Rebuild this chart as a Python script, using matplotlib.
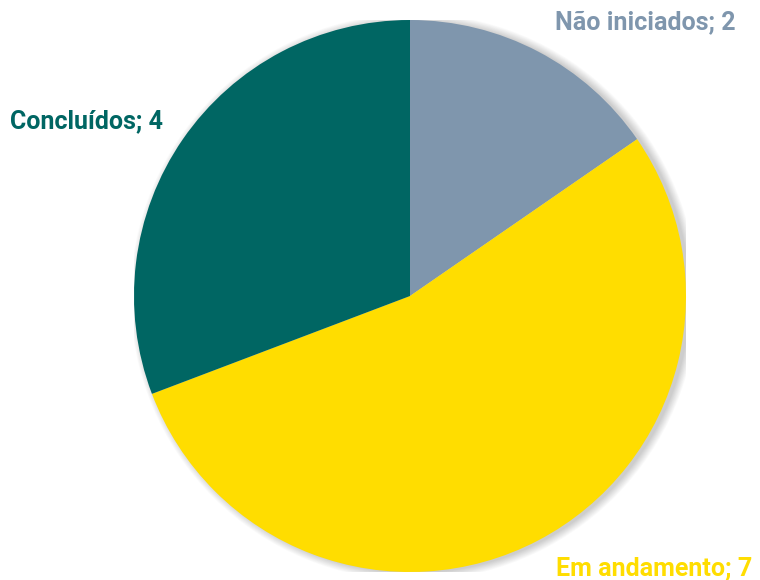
import matplotlib.pyplot as plt
from matplotlib.patches import Circle

labels = ['Não iniciados', 'Em andamento', 'Concluídos']
values = [2, 7, 4]
colors = ['#7F96AD', '#FFDD00', '#006663']

W, H = 760, 580
fig = plt.figure(figsize=(W / 100, H / 100), dpi=100)
cx, cy, r = 410, 296, 276
ax = fig.add_axes([(cx - r) / W, (H - cy - r) / H, 2 * r / W, 2 * r / H])

# soft shadow
for i in range(10):
    ax.add_patch(Circle((0.014, -0.004), 1.0 + i * 0.003, color='black',
                        alpha=0.018, lw=0, zorder=0))

ax.pie(values, colors=colors, startangle=90, counterclock=False, radius=1,
       wedgeprops={'linewidth': 0})
ax.set_xlim(-1, 1)
ax.set_ylim(-1, 1)
ax.set_aspect('equal')
ax.axis('off')

font = 'Roboto'
fig.text(736 / W, 1 - 22 / H, f'{labels[0]}; {values[0]}', color=colors[0],
         ha='right', va='center', fontsize=18, family=font, weight='bold')
fig.text(10 / W, 1 - 121 / H, f'{labels[2]}; {values[2]}', color=colors[2],
         ha='left', va='center', fontsize=18, family=font, weight='bold')
fig.text(556 / W, 1 - 568 / H, f'{labels[1]}; {values[1]}', color=colors[1],
         ha='left', va='center', fontsize=18, family=font, weight='bold')

fig.savefig('out.png', dpi=100)
